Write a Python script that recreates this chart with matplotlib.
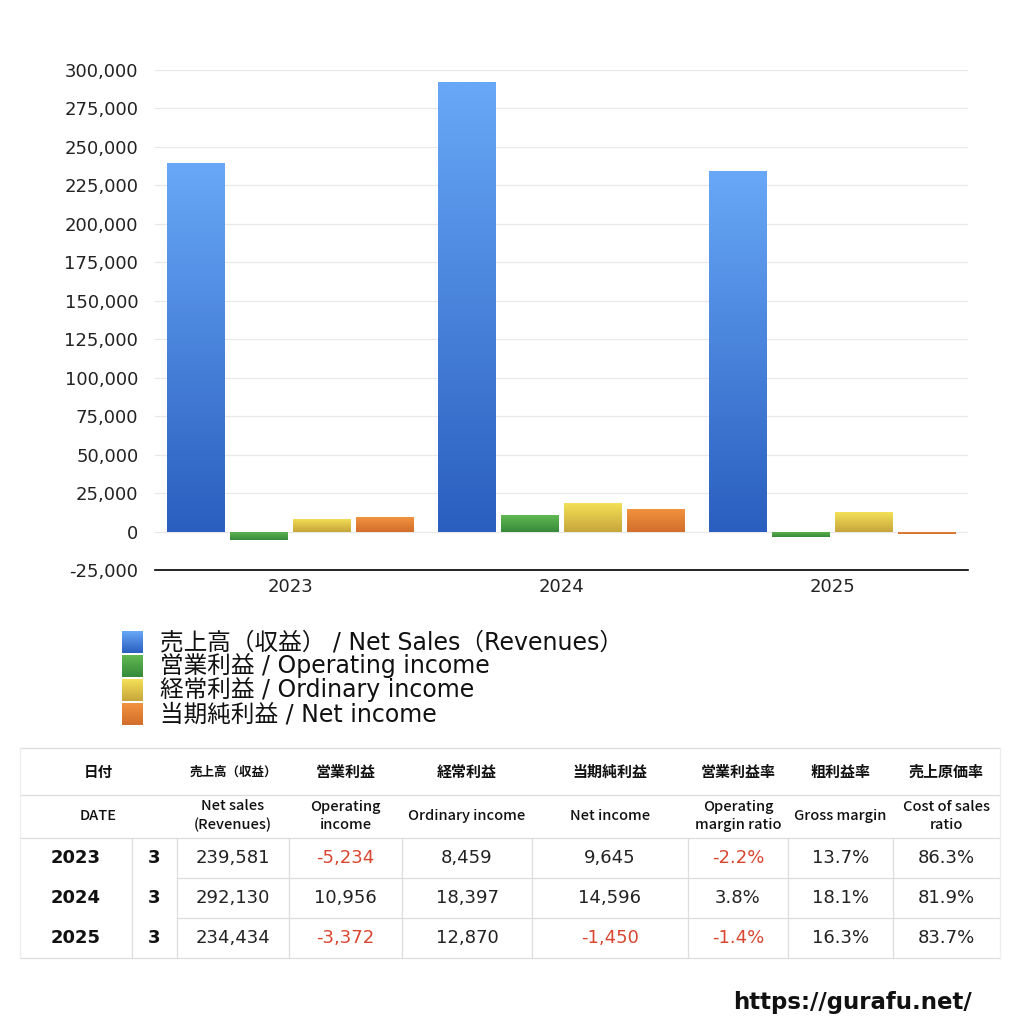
import numpy as np
import matplotlib
matplotlib.use("Agg")
import matplotlib.pyplot as plt
from matplotlib.colors import LinearSegmentedColormap

LAT = ['DejaVu Sans', 'Noto Sans CJK JP']
CJK = ['Noto Sans CJK JP', 'DejaVu Sans']
plt.rcParams['font.family'] = LAT

years = ["2023", "2024", "2025"]
months = ["3", "3", "3"]
net_sales = [239581, 292130, 234434]
operating_income = [-5234, 10956, -3372]
ordinary_income = [8459, 18397, 12870]
net_income = [9645, 14596, -1450]
op_margin = ["-2.2%", "3.8%", "-1.4%"]
gross_margin = ["13.7%", "18.1%", "16.3%"]
cost_ratio = ["86.3%", "81.9%", "83.7%"]

series_labels = ["売上高（収益） / Net Sales（Revenues）", "営業利益 / Operating income",
                 "経常利益 / Ordinary income", "当期純利益 / Net income"]
series_values = [net_sales, operating_income, ordinary_income, net_income]
grad_colors = [("#68a8f7", "#2a5ebf"), ("#62b852", "#368a3a"),
               ("#f4e157", "#c6a53b"), ("#f2933f", "#d26d2b")]
yticks = list(range(-25000, 300001, 25000))

W = H = 1024
fig = plt.figure(figsize=(10.24, 10.24), dpi=100)
ax = fig.add_axes([155 / W, 1 - 570 / H, (968 - 155) / W, (570 - 70) / H])

x = np.arange(len(years))
bw = 0.213
step = 0.233
offsets = (np.arange(4) - 1.5) * step

for i, (vals, (ctop, cbot)) in enumerate(zip(series_values, grad_colors)):
    bars = ax.bar(x + offsets[i], vals, width=bw, color="none", edgecolor="none", zorder=2)
    cmap = LinearSegmentedColormap.from_list(f"g{i}", [cbot, ctop])
    grad = np.linspace(1, 0, 256).reshape(-1, 1)
    for b in bars:
        x0, y0 = b.get_x(), b.get_y()
        w, h = b.get_width(), b.get_height()
        lo, hi = min(y0, y0 + h), max(y0, y0 + h)
        im = ax.imshow(grad, cmap=cmap, vmin=0, vmax=1, aspect="auto",
                       extent=(x0, x0 + w, lo, hi), origin="upper", zorder=2)
        im.set_clip_path(b)

ax.set_xlim(-0.5, 2.5)
ax.set_ylim(-25000, 300000)
ax.set_yticks(yticks)
ax.set_yticklabels([f"{v:,}" for v in yticks], fontsize=13, color="#222222")
ax.set_xticks(x)
ax.set_xticklabels(years, fontsize=13, color="#222222")
ax.tick_params(axis="y", length=0, pad=12)
ax.tick_params(axis="x", length=0, pad=6)
ax.grid(axis="y", color="#e8e8e8", linewidth=0.9, zorder=0)
ax.set_axisbelow(True)
for s in ["left", "right", "top"]:
    ax.spines[s].set_visible(False)
ax.spines["bottom"].set_color("black")
ax.spines["bottom"].set_linewidth(1.2)

# overlay axes in pixel coordinates
ov = fig.add_axes([0, 0, 1, 1])
ov.axis("off")

# legend
leg_y = [642, 666, 690, 714]
for ly, lab, (ctop, cbot) in zip(leg_y, series_labels, grad_colors):
    cmap = LinearSegmentedColormap.from_list("lg", [cbot, ctop])
    ov.imshow(np.linspace(1, 0, 64).reshape(-1, 1), cmap=cmap, vmin=0, vmax=1,
              aspect="auto", extent=(122, 143, ly + 11, ly - 11), origin="upper")
    ov.text(160, ly, lab, fontsize=17, va="center", ha="left", color="#111111", family=LAT)
ov.set_xlim(0, W)
ov.set_ylim(H, 0)

# table
line_c = "#dddddd"
tl, tr = 20, 1000
rows_y = [748, 795, 838, 878, 918, 958]
col_x = [20, 132, 177, 289, 402, 532, 688, 788, 893, 1000]
for yy in [748, 795, 838, 958]:
    ov.plot([tl, tr], [yy, yy], color=line_c, lw=0.9)
for yy in [878, 918]:
    ov.plot([177, tr], [yy, yy], color=line_c, lw=0.9)
ov.plot([tl, tl], [748, 958], color="#eeeeee", lw=0.9)
ov.plot([tr, tr], [748, 958], color="#eeeeee", lw=0.9)
for cx in col_x[1:-1]:
    ov.plot([cx, cx], [838, 958], color=line_c, lw=0.9)

jp_headers = ["売上高（収益）", "営業利益", "経常利益", "当期純利益", "営業利益率", "粗利益率", "売上原価率"]
en_headers = ["Net sales\n(Revenues)", "Operating\nincome", "Ordinary income", "Net income",
              "Operating\nmargin ratio", "Gross margin", "Cost of sales\nratio"]
centers = [(col_x[i] + col_x[i + 1]) / 2 for i in range(len(col_x) - 1)]
ov.text((20 + 177) / 2, 772, "日付", fontsize=10.5, weight="bold", ha="center", va="center",
        color="#111111", family=CJK)
ov.text((20 + 177) / 2, 816, "DATE", fontsize=10.5, weight="medium", ha="center", va="center",
        color="#111111", family=CJK)
for i, (jh, eh) in enumerate(zip(jp_headers, en_headers)):
    cx = centers[i + 2]
    ov.text(cx, 772, jh, fontsize=9 if i == 0 else 10.8, weight="bold", ha="center", va="center",
            color="#111111", family=CJK)
    ov.text(cx, 816, eh, fontsize=10.5, weight="medium", ha="center", va="center",
            color="#111111", linespacing=1.4, family=CJK)

red = "#d9452f"
for r in range(3):
    cy = (rows_y[r + 2] + rows_y[r + 3]) / 2
    ov.text(centers[0], cy, years[r], fontsize=13, weight="bold", ha="center", va="center", color="#111111")
    ov.text(centers[1], cy, months[r], fontsize=13, weight="bold", ha="center", va="center", color="#111111")
    vals = [f"{net_sales[r]:,}", f"{operating_income[r]:,}", f"{ordinary_income[r]:,}",
            f"{net_income[r]:,}", op_margin[r], gross_margin[r], cost_ratio[r]]
    for j, v in enumerate(vals):
        col = red if v.startswith("-") else "#222222"
        ov.text(centers[j + 2], cy, v, fontsize=13, ha="center", va="center", color=col)

ov.text(972, 1003, "https://gurafu.net/", fontsize=16.5, weight="bold", ha="right", va="center", color="#111111")

fig.savefig("out.png", dpi=100)
